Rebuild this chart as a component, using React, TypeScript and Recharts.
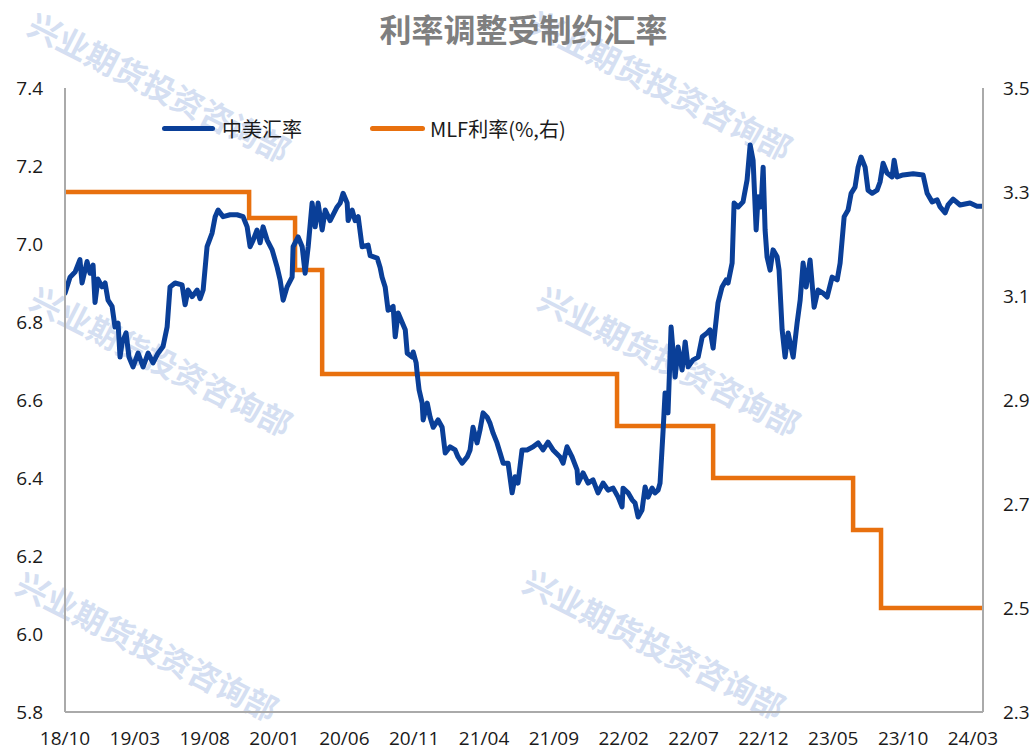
import React from 'react';
import { LineChart, Line, XAxis, YAxis, Legend } from 'recharts';

// months since 2018-10 (x) and USD/CNY (left axis)
const fxMonths = [
  0.0, 0.36, 0.72, 1.07, 1.22, 1.58, 1.79, 2.01, 2.15, 2.36, 2.65, 2.87, 3.08, 3.37, 3.58, 3.8, 3.94, 4.08, 4.37, 4.58,
  4.87, 5.23, 5.59, 5.95, 6.3, 6.66, 7.02, 7.31, 7.52, 7.88, 8.38, 8.6, 8.81, 9.1, 9.46, 9.67, 9.89, 10.17, 10.53, 10.75,
  10.96, 11.32, 11.82, 12.32, 12.75, 13.04, 13.25, 13.47, 13.75, 13.97, 14.18, 14.47, 14.83, 15.19, 15.4, 15.62, 15.9, 16.26, 16.33, 16.69,
  16.98, 17.19, 17.41, 17.69, 17.91, 18.12, 18.41, 18.63, 18.98, 19.48, 19.7, 19.91, 20.2, 20.27, 20.56, 20.77, 20.99, 21.27, 21.7, 21.85,
  22.35, 22.56, 22.7, 22.92, 23.13, 23.49, 23.64, 23.85, 24.36, 24.5, 24.86, 24.93, 25.14, 25.21, 25.35, 25.57, 25.64, 25.93, 26.14, 26.36,
  26.71, 27.0, 27.22, 27.57, 27.93, 28.14, 28.43, 28.79, 29.0, 29.21, 29.5, 29.71, 29.93, 30.22, 30.43, 30.65, 30.93, 31.15, 31.37, 31.72,
  32.01, 32.22, 32.43, 32.72, 33.08, 33.51, 33.87, 34.22, 34.58, 34.94, 35.44, 35.66, 35.94, 36.3, 36.66, 36.73, 37.09, 37.45, 37.8, 38.16,
  38.52, 38.88, 39.24, 39.6, 39.88, 39.95, 40.31, 40.6, 40.81, 41.03, 41.31, 41.53, 41.74, 42.03, 42.24, 42.46, 42.6, 42.82, 42.96, 43.17,
  43.39, 43.68, 43.89, 44.18, 44.4, 44.61, 44.97, 45.33, 45.62, 45.97, 46.18, 46.4, 46.54, 46.75, 47.04, 47.33, 47.47, 47.76, 47.9, 48.19,
  48.54, 48.83, 49.05, 49.26, 49.48, 49.62, 49.83, 49.98, 50.12, 50.26, 50.48, 50.69, 50.98, 51.12, 51.34, 51.55, 51.77, 52.13, 52.41, 52.63,
  52.84, 53.06, 53.34, 53.63, 53.91, 54.27, 54.56, 54.92, 55.28, 55.49, 55.78, 56.06, 56.28, 56.56, 56.78, 56.99, 57.28, 57.49, 57.78, 58.14,
  58.35, 58.57, 58.85, 59.21, 59.36, 59.57, 60.0, 60.72, 61.43, 61.72, 62.08, 62.44, 62.65, 63.01, 63.22, 63.58, 64.08, 64.79, 65.29, 65.72,
];
const usdcny = [
  6.874, 6.915, 6.928, 6.96, 6.9, 6.955, 6.925, 6.946, 6.85, 6.91, 6.89, 6.9, 6.856, 6.84, 6.787, 6.797, 6.71, 6.746, 6.772, 6.71,
  6.685, 6.72, 6.685, 6.72, 6.695, 6.72, 6.737, 6.787, 6.89, 6.9, 6.895, 6.844, 6.882, 6.865, 6.882, 6.86, 6.882, 6.993, 7.028, 7.07,
  7.087, 7.07, 7.075, 7.075, 7.07, 7.044, 6.993, 7.01, 7.036, 7.003, 7.044, 7.01, 6.985, 6.94, 6.908, 6.856, 6.89, 6.915, 6.993, 7.018,
  6.993, 6.925, 6.993, 7.105, 7.044, 7.105, 7.036, 7.087, 7.06, 7.095, 7.105, 7.13, 7.105, 7.06, 7.087, 7.06, 7.07, 6.993, 6.997, 6.97,
  6.964, 6.94, 6.915, 6.89, 6.83, 6.84, 6.762, 6.823, 6.78, 6.72, 6.71, 6.723, 6.695, 6.669, 6.626, 6.592, 6.549, 6.592, 6.556, 6.53,
  6.549, 6.53, 6.464, 6.48, 6.472, 6.454, 6.438, 6.454, 6.472, 6.53, 6.49, 6.523, 6.567, 6.556, 6.54, 6.515, 6.49, 6.464, 6.438, 6.438,
  6.362, 6.403, 6.387, 6.472, 6.472, 6.48, 6.49, 6.472, 6.492, 6.472, 6.454, 6.438, 6.48, 6.454, 6.421, 6.387, 6.413, 6.387, 6.395, 6.362,
  6.387, 6.369, 6.374, 6.351, 6.326, 6.374, 6.362, 6.344, 6.336, 6.3, 6.318, 6.377, 6.351, 6.374, 6.362, 6.369, 6.387, 6.523, 6.618, 6.567,
  6.787, 6.659, 6.736, 6.677, 6.749, 6.685, 6.703, 6.71, 6.762, 6.772, 6.78, 6.733, 6.78, 6.849, 6.89, 6.908, 6.9, 6.951, 7.105, 7.095,
  7.108, 7.164, 7.254, 7.215, 7.036, 7.121, 7.095, 7.197, 7.036, 6.967, 6.933, 6.985, 6.967, 6.933, 6.78, 6.71, 6.772, 6.71, 6.797, 6.856,
  6.951, 6.89, 6.959, 6.838, 6.882, 6.874, 6.864, 6.915, 6.908, 6.951, 7.07, 7.087, 7.13, 7.146, 7.197, 7.223, 7.197, 7.138, 7.13, 7.138,
  7.159, 7.207, 7.182, 7.172, 7.215, 7.172, 7.177, 7.18, 7.177, 7.13, 7.108, 7.113, 7.095, 7.08, 7.1, 7.115, 7.1, 7.105, 7.097, 7.097,
];

// MLF rate change points (right axis)
const mlfMonths = [0, 13.18, 16.47, 18.41, 39.52, 46.4, 56.42, 58.42, 65.72];
const mlfRate = [3.3, 3.25, 3.15, 2.95, 2.85, 2.75, 2.65, 2.5, 2.5];

const tickMonths = [0, 5, 10, 15, 20, 25, 30, 35, 40, 45, 50, 55, 60, 65];
const tickLabels = ['18/10', '19/03', '19/08', '20/01', '20/06', '20/11', '21/04', '21/09', '22/02', '22/07', '22/12', '23/05', '23/10', '24/03'];
const leftTicks = [5.8, 6.0, 6.2, 6.4, 6.6, 6.8, 7.0, 7.2, 7.4];
const rightTicks = [2.3, 2.5, 2.7, 2.9, 3.1, 3.3, 3.5];

const fxData = fxMonths.map((t, i) => ({ t, fx: usdcny[i] }));
const mlfData = mlfMonths.map((t, i) => ({ t, mlf: mlfRate[i] }));

const BLUE = '#0a3f98';
const ORANGE = '#e8700e';
const CJK = '"Noto Sans CJK SC", sans-serif';
const tickStyle = { fontFamily: '"Open Sans", sans-serif', fontSize: 19, fill: '#1a1a1a' };

const watermarks = [
  [160, 86], [662, 84], [162, 360], [670, 360], [148, 645], [655, 643],
];

// drop the default 8px body margin so the chart sits at the page origin
if (typeof document !== 'undefined') document.body.style.margin = '0';

const LegendBox = () => (
  <div style={{ display: 'flex', alignItems: 'center', fontFamily: CJK, fontSize: 20, color: '#1a1a1a', whiteSpace: 'nowrap' }}>
    <span style={{ width: 53, height: 5, borderRadius: 3, background: BLUE, marginRight: 7 }} />
    <span style={{ marginRight: 68 }}>中美汇率</span>
    <span style={{ width: 55, height: 5, borderRadius: 3, background: ORANGE, marginRight: 5 }} />
    <span>MLF利率(%,右)</span>
  </div>
);

const App: React.FC = () => {
  return (
    <div style={{ position: 'relative', width: 1033, height: 751, background: '#fff' }}>
      {watermarks.map(([x, y], i) => (
        <div
          key={i}
          style={{
            position: 'absolute', left: x, top: y, transform: 'translate(-50%, -50%) rotate(27deg)',
            fontFamily: CJK, fontWeight: 700, fontSize: 32, lineHeight: '32px', color: '#d5dff2', whiteSpace: 'nowrap',
          }}
        >
          兴业期货投资咨询部
        </div>
      ))}
      <div
        style={{
          position: 'absolute', left: 0, top: 11, width: 1047, textAlign: 'center',
          fontFamily: CJK, fontWeight: 700, fontSize: 32, lineHeight: '35px', color: '#7f7f7f',
        }}
      >
        利率调整受制约汇率
      </div>
      <div style={{ position: 'absolute', left: 0, top: 0 }}>
        <LineChart width={1033} height={751} data={fxData} margin={{ top: 88, right: 0, bottom: 0, left: 0 }}>
          <XAxis
            dataKey="t"
            type="number"
            domain={[0, 65.72]}
            ticks={tickMonths}
            interval={0}
            allowDataOverflow
            height={39}
            tickLine={false}
            tickMargin={14}
            axisLine={{ stroke: '#aaaaaa', strokeWidth: 2 }}
            tick={tickStyle}
            tickFormatter={(v: number) => tickLabels[tickMonths.indexOf(v)] ?? ''}
          />
          <YAxis
            yAxisId="left"
            width={65}
            domain={[5.8, 7.4]}
            ticks={leftTicks}
            interval={0}
            tickLine={false}
            tickMargin={16}
            axisLine={{ stroke: '#aaaaaa', strokeWidth: 2 }}
            tick={tickStyle}
            tickFormatter={(v: number) => v.toFixed(1)}
          />
          <YAxis
            yAxisId="right"
            orientation="right"
            width={50}
            domain={[2.3, 3.5]}
            ticks={rightTicks}
            interval={0}
            tickLine={false}
            tickMargin={14}
            axisLine={{ stroke: '#aaaaaa', strokeWidth: 2 }}
            tick={tickStyle}
            tickFormatter={(v: number) => v.toFixed(1)}
          />
          <Legend
            layout="horizontal"
            verticalAlign="middle"
            align="center"
            wrapperStyle={{ position: 'absolute', top: 114, left: 162, width: 'auto' }}
            content={() => <LegendBox />}
          />
          <Line
            yAxisId="right"
            data={mlfData}
            dataKey="mlf"
            name="MLF利率(%,右)"
            type="stepAfter"
            stroke={ORANGE}
            strokeWidth={4.5}
            dot={false}
            isAnimationActive={false}
          />
          <Line
            yAxisId="left"
            dataKey="fx"
            name="中美汇率"
            type="linear"
            stroke={BLUE}
            strokeWidth={5}
            strokeLinejoin="round"
            strokeLinecap="round"
            dot={false}
            isAnimationActive={false}
          />
        </LineChart>
      </div>
    </div>
  );
};

export default App;
